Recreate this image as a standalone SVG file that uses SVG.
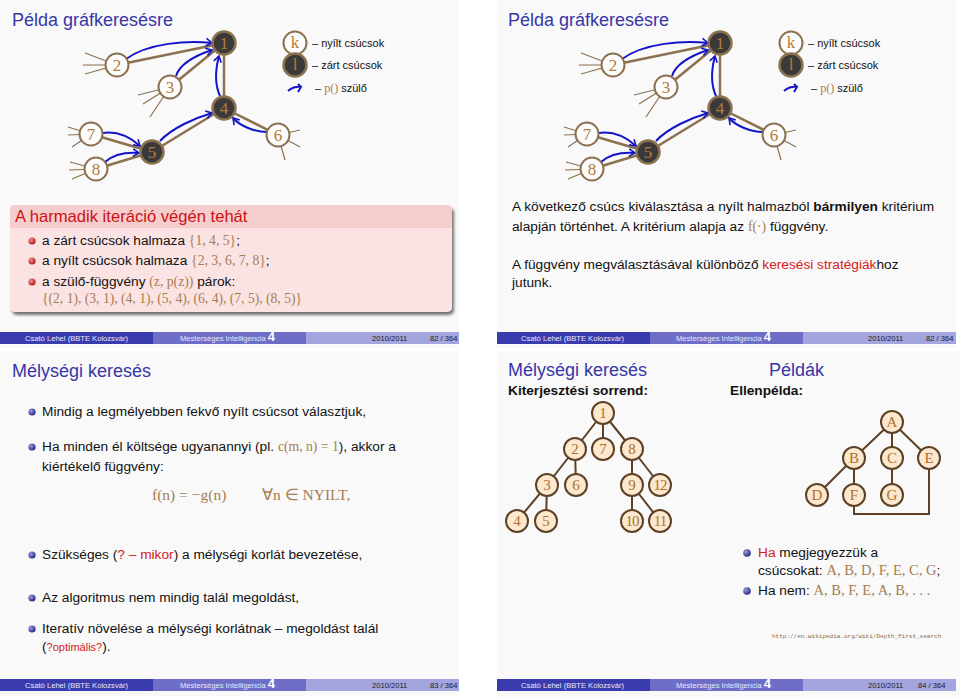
<svg xmlns="http://www.w3.org/2000/svg" width="960" height="699" viewBox="0 0 960 699">
<defs>
<style>
.bg{fill:#f9f9f9}
.title{font-family:"Liberation Sans",Arial,sans-serif;font-size:18px;fill:#3636a8}
.t{font-family:"Liberation Sans",Arial,sans-serif;font-size:13.7px;fill:#111}
.m{font-family:"Liberation Serif","Times New Roman",serif;fill:#a57d4f}
.red{fill:#d42020}
.edge{stroke:#8c7150;stroke-width:2.5;fill:none}
.stub{stroke:#8c7150;stroke-width:1.2;fill:none}
.par{stroke:#1414c8;stroke-width:2;fill:none;marker-end:url(#ah)}
.open{fill:#fdfdfd;stroke:#8c7150;stroke-width:2}
.closed{fill:#3a3a3a;stroke:#8c7150;stroke-width:2.5}
.lbl{font-family:"Liberation Serif","Times New Roman",serif;font-size:17px;fill:#b57a35;text-anchor:middle}
.tn{fill:#fbe8cf;stroke:#5e4125;stroke-width:2}
.te{stroke:#5e4125;stroke-width:2;fill:none}
.tl{font-family:"Liberation Serif","Times New Roman",serif;font-size:15px;fill:#b0702a;text-anchor:middle}
.f{font-family:"Liberation Sans",Arial,sans-serif;font-size:7.6px}
.fw{fill:#e6e6f6}
.fd{fill:#222}
.f1{fill:#3b3bb0}
.f2{fill:#6e6ec9}
.f3{fill:#a4a4df}
.rb{fill:url(#rball)}
.bb{fill:url(#bball)}
.lg{font-family:"Liberation Sans",Arial,sans-serif;font-size:11px;fill:#111}
</style>
<marker id="ah" markerUnits="userSpaceOnUse" markerWidth="10" markerHeight="10" refX="8" refY="5" viewBox="0 0 10 10" orient="auto"><path d="M2,1.2 L8,5 L2,8.8" fill="none" stroke="#1414c8" stroke-width="1.6"/></marker>
<radialGradient id="rball" cx="0.35" cy="0.35" r="0.7"><stop offset="0" stop-color="#f29090"/><stop offset="1" stop-color="#b01616"/></radialGradient>
<radialGradient id="bball" cx="0.35" cy="0.35" r="0.7"><stop offset="0" stop-color="#9a9ae6"/><stop offset="1" stop-color="#23237e"/></radialGradient>
<filter id="sh" x="-5%" y="-10%" width="115%" height="130%"><feGaussianBlur in="SourceAlpha" stdDeviation="1.8"/><feOffset dx="2" dy="2.5" result="b"/><feComponentTransfer><feFuncA type="linear" slope="0.55"/></feComponentTransfer><feMerge><feMergeNode/><feMergeNode in="SourceGraphic"/></feMerge></filter>
</defs>
<rect width="960" height="699" fill="#ffffff"/>
<rect class="bg" x="0" y="0" width="459" height="348"/>
<rect class="bg" x="497" y="0" width="459" height="348"/>
<rect class="bg" x="0" y="351" width="459" height="345"/>
<rect class="bg" x="497" y="351" width="463" height="348"/>

<!-- ================= SLIDE 1 ================= -->
<text class="title" x="12" y="26">Példa gráfkeresésre</text>
<g id="s1-graph">
<g id="s1-connectors">
<line class="edge" x1="117" y1="65" x2="224" y2="43"/>
<line class="edge" x1="170" y1="87" x2="224" y2="43"/>
<line class="edge" x1="224" y1="108" x2="224" y2="43"/>
<line class="edge" x1="152" y1="152" x2="224" y2="108"/>
<line class="edge" x1="278" y1="135" x2="224" y2="108"/>
<line class="edge" x1="91" y1="134" x2="152" y2="152"/>
<line class="edge" x1="96" y1="169" x2="152" y2="152"/>
<path class="stub" d="M117,65 L85,53 M117,65 L83,65 M117,65 L85,74"/>
<path class="stub" d="M170,87 L138,95 M170,87 L143,104 M170,87 L150,117"/>
<path class="stub" d="M278,135 L300,130 M278,135 L300,147 M278,135 L285,160"/>
<path class="stub" d="M91,134 L68,127 M91,134 L68,135 M91,134 L72,147"/>
<path class="stub" d="M96,169 L70,162 M96,169 L69,170 M96,169 L72,179"/>
<path class="par" d="M126,59 C148,43 188,40 212,43"/>
<path class="par" d="M176,76 C180,63 197,55 212,50"/>
<path class="par" d="M220,96 C215,85 215,71 219,56"/>
<path class="par" d="M160,141 C172,128 195,118 212,113"/>
<path class="par" d="M267,132 C255,132 240,126 233,118"/>
<path class="par" d="M103,133 C118,131 130,137 140,146"/>
<path class="par" d="M105,162 C113,155 125,152 139,153"/>
</g>
<g id="s1-n1"><circle class="closed" cx="224" cy="43" r="11.5"/><text class="lbl" x="224" y="49">1</text></g>
<g id="s1-n2"><circle class="open" cx="117" cy="65" r="11.5"/><text class="lbl" x="117" y="71">2</text></g>
<g id="s1-n3"><circle class="open" cx="170" cy="87" r="11.5"/><text class="lbl" x="170" y="93">3</text></g>
<g id="s1-n4"><circle class="closed" cx="224" cy="108" r="11.5"/><text class="lbl" x="224" y="114">4</text></g>
<g id="s1-n5"><circle class="closed" cx="152" cy="152" r="11.5"/><text class="lbl" x="152" y="158">5</text></g>
<g id="s1-n6"><circle class="open" cx="278" cy="135" r="11.5"/><text class="lbl" x="278" y="141">6</text></g>
<g id="s1-n7"><circle class="open" cx="91" cy="134" r="11.5"/><text class="lbl" x="91" y="140">7</text></g>
<g id="s1-n8"><circle class="open" cx="96" cy="169" r="11.5"/><text class="lbl" x="96" y="175">8</text></g>
<g id="s1-legend">
<circle class="open" cx="295" cy="43" r="11.5"/><text class="lbl" x="295" y="48" font-size="14" fill="#c8a27a">k</text>
<text class="lg" x="312" y="47">– nyílt csúcsok</text>
<circle class="closed" cx="295" cy="65" r="11.5"/><text class="lbl" x="295" y="70" font-size="14">l</text>
<text class="lg" x="312" y="69">– zárt csúcsok</text>
<path d="M288,91 Q294,86 301,87 M298,84 L301,87 L298,92" fill="none" stroke="#1414c8" stroke-width="2"/>
<text class="lg" x="315" y="92">– <tspan class="m" font-size="12">p()</tspan> szülő</text>
</g>
</g>
<g id="s1-block">
<rect x="10" y="205" width="442" height="107" rx="5" fill="#fbe3e3" filter="url(#sh)"/>
<path d="M10,228 V210 Q10,205 15,205 H447 Q452,205 452,210 V228 Z" fill="#f6cdcd"/>
<text x="15" y="221.5" font-family="'Liberation Sans',Arial,sans-serif" font-size="16.6" fill="#cc1212">A harmadik iteráció végén tehát</text>
<circle class="rb" cx="32" cy="241" r="3.6"/>
<text class="t" x="42" y="245" font-size="14">a zárt csúcsok halmaza <tspan class="m">{1, 4, 5}</tspan>;</text>
<circle class="rb" cx="32" cy="261" r="3.6"/>
<text class="t" x="42" y="265" font-size="14">a nyílt csúcsok halmaza <tspan class="m">{2, 3, 6, 7, 8}</tspan>;</text>
<circle class="rb" cx="32" cy="282" r="3.6"/>
<text class="t" x="42" y="286" font-size="14">a szülő-függvény <tspan class="m">(z, p(z))</tspan> párok:</text>
<text class="m" x="42" y="303" font-size="14" textLength="260" lengthAdjust="spacingAndGlyphs">{(2, 1), (3, 1), (4, 1), (5, 4), (6, 4), (7, 5), (8, 5)}</text>
</g>
<g id="s1-footer">
<rect class="f1" x="0" y="332" width="153" height="12"/>
<rect class="f2" x="153" y="332" width="153" height="12"/>
<rect class="f3" x="306" y="332" width="153" height="12"/>
<text class="f fw" x="25" y="341">Csató Lehel  (BBTE Kolozsvár)</text>
<text class="f fw" x="180" y="341">Mesterséges Intelligencia <tspan font-size="13" font-weight="bold" fill="#ffffff">4</tspan></text>
<text class="f fd" x="372" y="341">2010/2011</text>
<text class="f fd" x="430" y="341">82 / 364</text>
</g>

<!-- ================= SLIDE 2 ================= -->
<text class="title" x="508" y="26">Példa gráfkeresésre</text>
<g id="s2-graph" transform="translate(496,0)">
<g id="s2-connectors">
<line class="edge" x1="117" y1="65" x2="224" y2="43"/>
<line class="edge" x1="170" y1="87" x2="224" y2="43"/>
<line class="edge" x1="224" y1="108" x2="224" y2="43"/>
<line class="edge" x1="152" y1="152" x2="224" y2="108"/>
<line class="edge" x1="278" y1="135" x2="224" y2="108"/>
<line class="edge" x1="91" y1="134" x2="152" y2="152"/>
<line class="edge" x1="96" y1="169" x2="152" y2="152"/>
<path class="stub" d="M117,65 L85,53 M117,65 L83,65 M117,65 L85,74"/>
<path class="stub" d="M170,87 L138,95 M170,87 L143,104 M170,87 L150,117"/>
<path class="stub" d="M278,135 L300,130 M278,135 L300,147 M278,135 L285,160"/>
<path class="stub" d="M91,134 L68,127 M91,134 L68,135 M91,134 L72,147"/>
<path class="stub" d="M96,169 L70,162 M96,169 L69,170 M96,169 L72,179"/>
<path class="par" d="M126,59 C148,43 188,40 212,43"/>
<path class="par" d="M176,76 C180,63 197,55 212,50"/>
<path class="par" d="M220,96 C215,85 215,71 219,56"/>
<path class="par" d="M160,141 C172,128 195,118 212,113"/>
<path class="par" d="M267,132 C255,132 240,126 233,118"/>
<path class="par" d="M103,133 C118,131 130,137 140,146"/>
<path class="par" d="M105,162 C113,155 125,152 139,153"/>
</g>
<g id="s2-n1"><circle class="closed" cx="224" cy="43" r="11.5"/><text class="lbl" x="224" y="49">1</text></g>
<g id="s2-n2"><circle class="open" cx="117" cy="65" r="11.5"/><text class="lbl" x="117" y="71">2</text></g>
<g id="s2-n3"><circle class="open" cx="170" cy="87" r="11.5"/><text class="lbl" x="170" y="93">3</text></g>
<g id="s2-n4"><circle class="closed" cx="224" cy="108" r="11.5"/><text class="lbl" x="224" y="114">4</text></g>
<g id="s2-n5"><circle class="closed" cx="152" cy="152" r="11.5"/><text class="lbl" x="152" y="158">5</text></g>
<g id="s2-n6"><circle class="open" cx="278" cy="135" r="11.5"/><text class="lbl" x="278" y="141">6</text></g>
<g id="s2-n7"><circle class="open" cx="91" cy="134" r="11.5"/><text class="lbl" x="91" y="140">7</text></g>
<g id="s2-n8"><circle class="open" cx="96" cy="169" r="11.5"/><text class="lbl" x="96" y="175">8</text></g>
<g id="s2-legend">
<circle class="open" cx="295" cy="43" r="11.5"/><text class="lbl" x="295" y="48" font-size="14" fill="#c8a27a">k</text>
<text class="lg" x="312" y="47">– nyílt csúcsok</text>
<circle class="closed" cx="295" cy="65" r="11.5"/><text class="lbl" x="295" y="70" font-size="14">l</text>
<text class="lg" x="312" y="69">– zárt csúcsok</text>
<path d="M288,91 Q294,86 301,87 M298,84 L301,87 L298,92" fill="none" stroke="#1414c8" stroke-width="2"/>
<text class="lg" x="315" y="92">– <tspan class="m" font-size="12">p()</tspan> szülő</text>
</g>
</g>
<g id="s2-text">
<text class="t" x="512" y="211">A következő csúcs kiválasztása a nyílt halmazból <tspan font-weight="bold">bármilyen</tspan> kritérium</text>
<text class="t" x="512" y="231">alapján történhet. A kritérium alapja az <tspan class="m">f(·)</tspan> függvény.</text>
<text class="t" x="512" y="269">A függvény megválasztásával különböző <tspan class="red">keresési stratégiák</tspan>hoz</text>
<text class="t" x="512" y="287">jutunk.</text>
</g>
<g id="s2-footer">
<rect class="f1" x="497" y="332" width="153" height="12"/>
<rect class="f2" x="650" y="332" width="153" height="12"/>
<rect class="f3" x="803" y="332" width="153" height="12"/>
<text class="f fw" x="521" y="341">Csató Lehel  (BBTE Kolozsvár)</text>
<text class="f fw" x="676" y="341">Mesterséges Intelligencia <tspan font-size="13" font-weight="bold" fill="#ffffff">4</tspan></text>
<text class="f fd" x="868" y="341">2010/2011</text>
<text class="f fd" x="926" y="341">82 / 364</text>
</g>

<!-- ================= SLIDE 3 ================= -->
<text class="title" x="12" y="377">Mélységi keresés</text>
<g id="s3-text">
<circle class="bb" cx="32" cy="412" r="3.6"/>
<text class="t" x="42" y="416">Mindig a legmélyebben fekvő nyílt csúcsot választjuk,</text>
<circle class="bb" cx="32" cy="447" r="3.6"/>
<text class="t" x="42" y="451">Ha minden él költsége ugyanannyi (pl. <tspan class="m">c(m, n) = 1</tspan>), akkor a</text>
<text class="t" x="42" y="471">kiértékelő függvény:</text>
<text class="m" x="152" y="500" font-size="15.5">f(n) = −g(n)</text>
<text class="m" x="262" y="500" font-size="15.5">∀n ∈ NYILT,</text>
<circle class="bb" cx="32" cy="555" r="3.6"/>
<text class="t" x="42" y="559">Szükséges (<tspan class="red">? – mikor</tspan>) a mélységi korlát bevezetése,</text>
<circle class="bb" cx="32" cy="598" r="3.6"/>
<text class="t" x="42" y="602">Az algoritmus nem mindig talál megoldást,</text>
<circle class="bb" cx="32" cy="629" r="3.6"/>
<text class="t" x="42" y="633">Iteratív növelése a mélységi korlátnak – megoldást talál</text>
<text class="t" x="42" y="651">(<tspan class="red" font-size="11">?optimális?</tspan>).</text>
</g>
<g id="s3-footer">
<rect class="f1" x="0" y="679" width="153" height="12"/>
<rect class="f2" x="153" y="679" width="153" height="12"/>
<rect class="f3" x="306" y="679" width="153" height="12"/>
<text class="f fw" x="25" y="688">Csató Lehel  (BBTE Kolozsvár)</text>
<text class="f fw" x="180" y="688">Mesterséges Intelligencia <tspan font-size="13" font-weight="bold" fill="#ffffff">4</tspan></text>
<text class="f fd" x="372" y="688">2010/2011</text>
<text class="f fd" x="430" y="688">83 / 364</text>
</g>

<!-- ================= SLIDE 4 ================= -->
<text class="title" x="508" y="376">Mélységi keresés</text>
<text class="title" x="769" y="376">Példák</text>
<text class="t" x="508" y="395" font-weight="bold" font-size="13">Kiterjesztési sorrend:</text>
<text class="t" x="730" y="395" font-weight="bold" font-size="13.5">Ellenpélda:</text>
<g id="tree1">
<g id="tree1-connectors">
<path class="te" d="M603,413 L575,449 M603,413 L603,449 M603,413 L632,449 M575,449 L547,485 M575,449 L576,485 M632,449 L632,485 M632,449 L660,485 M547,485 L517,521 M547,485 L546,521 M632,485 L632,521 M632,485 L660,521"/>
</g>
<g id="t1-1"><circle class="tn" cx="603" cy="413" r="11"/><text class="tl" x="603" y="418">1</text></g>
<g id="t1-2"><circle class="tn" cx="575" cy="449" r="11"/><text class="tl" x="575" y="454">2</text></g>
<g id="t1-7"><circle class="tn" cx="603" cy="449" r="11"/><text class="tl" x="603" y="454">7</text></g>
<g id="t1-8"><circle class="tn" cx="632" cy="449" r="11"/><text class="tl" x="632" y="454">8</text></g>
<g id="t1-3"><circle class="tn" cx="547" cy="485" r="11"/><text class="tl" x="547" y="490">3</text></g>
<g id="t1-6"><circle class="tn" cx="576" cy="485" r="11"/><text class="tl" x="576" y="490">6</text></g>
<g id="t1-9"><circle class="tn" cx="632" cy="485" r="11"/><text class="tl" x="632" y="490">9</text></g>
<g id="t1-12"><circle class="tn" cx="660" cy="485" r="11"/><text class="tl" x="660" y="490" letter-spacing="-1">12</text></g>
<g id="t1-4"><circle class="tn" cx="517" cy="521" r="11"/><text class="tl" x="517" y="526">4</text></g>
<g id="t1-5"><circle class="tn" cx="546" cy="521" r="11"/><text class="tl" x="546" y="526">5</text></g>
<g id="t1-10"><circle class="tn" cx="632" cy="521" r="11"/><text class="tl" x="632" y="526" letter-spacing="-1">10</text></g>
<g id="t1-11"><circle class="tn" cx="660" cy="521" r="11"/><text class="tl" x="660" y="526" letter-spacing="-1">11</text></g>
</g>
<g id="tree2">
<g id="tree2-connectors">
<path class="te" d="M892,422 L854,458 M892,422 L892,458 M892,422 L929,458 M854,458 L817,495 M854,458 L854,495 M892,458 L892,495 M854,495 V514 H929 V458"/>
</g>
<g id="t2-A"><circle class="tn" cx="892" cy="422" r="11"/><text class="tl" x="892" y="427">A</text></g>
<g id="t2-B"><circle class="tn" cx="854" cy="458" r="11"/><text class="tl" x="854" y="463">B</text></g>
<g id="t2-C"><circle class="tn" cx="892" cy="458" r="11"/><text class="tl" x="892" y="463">C</text></g>
<g id="t2-E"><circle class="tn" cx="929" cy="458" r="11"/><text class="tl" x="929" y="463">E</text></g>
<g id="t2-D"><circle class="tn" cx="817" cy="495" r="11"/><text class="tl" x="817" y="500">D</text></g>
<g id="t2-F"><circle class="tn" cx="854" cy="495" r="11"/><text class="tl" x="854" y="500">F</text></g>
<g id="t2-G"><circle class="tn" cx="892" cy="495" r="11"/><text class="tl" x="892" y="500">G</text></g>
</g>
<g id="s4-text">
<circle class="bb" cx="747" cy="553" r="3.8"/>
<text class="t" x="758" y="557" font-size="14.5"><tspan class="red">Ha</tspan> megjegyezzük a</text>
<text class="t" x="758" y="575" font-size="14.5">csúcsokat: <tspan class="m" font-size="14.5">A, B, D, F, E, C, G</tspan>;</text>
<circle class="bb" cx="747" cy="591" r="3.8"/>
<text class="t" x="758" y="595" font-size="14.5">Ha nem: <tspan class="m" font-size="14.5">A, B, F, E, A, B, . . .</tspan></text>
<text x="772" y="638" font-family="'Liberation Mono','Courier New',monospace" font-size="6" fill="#8c6a45">http://en.wikipedia.org/wiki/Depth_first_search</text>
</g>
<g id="s4-footer">
<rect class="f1" x="497" y="679" width="153" height="12"/>
<rect class="f2" x="650" y="679" width="153" height="12"/>
<rect class="f3" x="803" y="679" width="153" height="12"/>
<text class="f fw" x="521" y="688">Csató Lehel  (BBTE Kolozsvár)</text>
<text class="f fw" x="676" y="688">Mesterséges Intelligencia <tspan font-size="13" font-weight="bold" fill="#ffffff">4</tspan></text>
<text class="f fd" x="868" y="688">2010/2011</text>
<text class="f fd" x="918" y="688">84 / 364</text>
</g>
</svg>
